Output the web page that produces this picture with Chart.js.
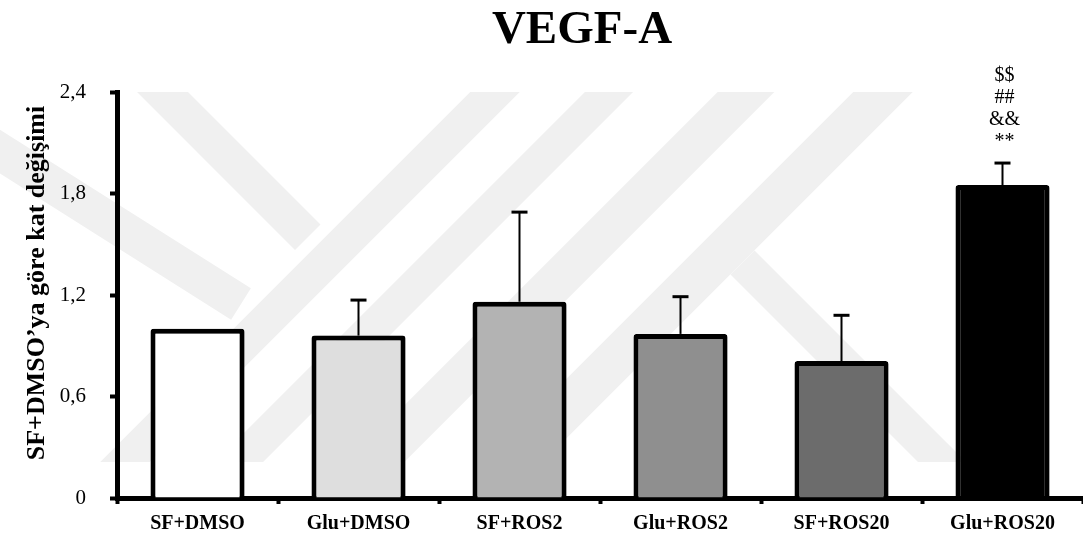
<!DOCTYPE html>
<html>
<head>
<meta charset="utf-8">
<script src="https://cdn.jsdelivr.net/npm/chart.js@4.4.1/dist/chart.umd.min.js"></script>
<style>
  html, body { margin: 0; padding: 0; background: #ffffff; overflow: hidden; }
  #wrap { width: 1083px; height: 543px; position: relative; }
</style>
</head>
<body>
<div id="wrap"><canvas id="c" width="1083" height="543"></canvas></div>
<script>
// Groups and fold change relative to SF+DMSO (mean and SD)
const groups = ['SF+DMSO', 'Glu+DMSO', 'SF+ROS2', 'Glu+ROS2', 'SF+ROS20', 'Glu+ROS20'];
const meanFold = [1.00, 0.96, 1.16, 0.97, 0.81, 1.85];
const sdFold = [0, 0.21, 0.53, 0.22, 0.27, 0.13];
const barColors = ['#ffffff', '#dedede', '#b3b3b3', '#8f8f8f', '#6c6c6c', '#000000'];
const yTicks = [0, 0.6, 1.2, 1.8, 2.4];
const sigMarks = [[], [], [], [], [], ['$$', '##', '&&', '**']];
const chartTitle = 'VEGF-A';
const yTitle = 'SF+DMSO\u2019ya göre kat değişimi';

const SERIF = '"Liberation Serif", "Times New Roman", serif';

// Faint background emblem made of diagonal bands
const emblem = {
  id: 'emblem',
  beforeDraw(chart) {
    const ctx = chart.ctx;
    ctx.save();
    ctx.fillStyle = '#ffffff';
    ctx.fillRect(0, 0, chart.width, chart.height);
    ctx.beginPath();
    ctx.rect(0, 92, chart.width, 370);
    ctx.clip();
    ctx.strokeStyle = '#f0f0f0';
    ctx.lineCap = 'butt';
    const bands = [
      // [x1, y1, x2, y2, width]
      [-131.5, 68.5, 241, 304, 37],
      [35.25, -35.25, 307.75, 237.25, 36],
      [-6.5, 593.5, 593.5, -6.5, 35],
      [100, 601, 700, 1, 34],
      [200, 638, 800, 38, 40],
      [350, 625, 950, 25, 42],
      [742.5, 262.5, 1100, 620, 34]
    ];
    bands.forEach(b => {
      ctx.lineWidth = b[4];
      ctx.beginPath();
      ctx.moveTo(b[0], b[1]);
      ctx.lineTo(b[2], b[3]);
      ctx.stroke();
    });
    ctx.restore();
  }
};

// Soft shadow under the bars
const barShadow = {
  id: 'barShadow',
  beforeDatasetsDraw(chart) {
    const ctx = chart.ctx;
    ctx.save();
    ctx.shadowColor = 'rgba(0,0,0,0.25)';
    ctx.shadowBlur = 4;
    ctx.shadowOffsetX = 2;
    ctx.shadowOffsetY = 1;
  },
  afterDatasetsDraw(chart) {
    chart.ctx.restore();
  }
};

// Upper error bars, significance marks and titles
const decorations = {
  id: 'decorations',
  afterDatasetsDraw(chart) {
    const ctx = chart.ctx;
    const xs = chart.scales.x, ys = chart.scales.y;
    ctx.save();
    ctx.strokeStyle = '#000000';
    meanFold.forEach((m, i) => {
      const x = xs.getPixelForValue(i);
      const yTopVal = ys.getPixelForValue(m + sdFold[i]);
      if (sdFold[i] > 0) {
        const yBar = ys.getPixelForValue(m);
        ctx.lineWidth = 2;
        ctx.beginPath();
        ctx.moveTo(x, yBar);
        ctx.lineTo(x, yTopVal);
        ctx.stroke();
        ctx.lineWidth = 3;
        ctx.beginPath();
        ctx.moveTo(x - 8, yTopVal);
        ctx.lineTo(x + 8, yTopVal);
        ctx.stroke();
      }
      const marks = sigMarks[i];
      if (marks.length) {
        ctx.fillStyle = '#000000';
        ctx.font = '20px ' + SERIF;
        ctx.textAlign = 'center';
        ctx.textBaseline = 'middle';
        const n = marks.length;
        marks.forEach((t, k) => {
          ctx.fillText(t, x + 2, yTopVal - 21 - 22 * (n - 1 - k));
        });
      }
    });

    // chart title
    ctx.fillStyle = '#000000';
    ctx.font = 'bold 47px ' + SERIF;
    ctx.textAlign = 'center';
    ctx.textBaseline = 'alphabetic';
    ctx.fillText(chartTitle, 582, 43);

    // y axis title
    ctx.save();
    ctx.translate(44, (chart.chartArea.top + chart.chartArea.bottom) / 2 - 12);
    ctx.rotate(-Math.PI / 2);
    ctx.font = 'bold 26px ' + SERIF;
    ctx.textAlign = 'center';
    ctx.textBaseline = 'alphabetic';
    ctx.fillText(yTitle, 0, 0);
    ctx.restore();

    ctx.restore();
  }
};

new Chart(document.getElementById('c'), {
  type: 'bar',
  data: {
    labels: groups,
    datasets: [{
      data: meanFold,
      backgroundColor: barColors,
      borderColor: '#000000',
      borderWidth: 5,
      borderRadius: 3,
      borderSkipped: 'start',
      categoryPercentage: 1.0,
      barPercentage: 0.584
    }]
  },
  options: {
    responsive: false,
    animation: false,
    devicePixelRatio: 1,
    layout: { padding: { top: 92, left: 0, right: 0, bottom: 0 } },
    plugins: {
      legend: { display: false },
      tooltip: { enabled: false },
      title: { display: false }
    },
    scales: {
      x: {
        type: 'category',
        offset: true,
        grid: {
          display: true, drawOnChartArea: false, drawTicks: true, offset: true,
          tickLength: 6, tickWidth: 4, tickColor: '#000000'
        },
        border: { display: true, color: '#000000', width: 5 },
        ticks: {
          color: '#000000', padding: 8, maxRotation: 0, autoSkip: false,
          font: { family: SERIF, weight: 'bold', size: 20 }
        },
        afterFit(s) {
          s.height = 45;
          s.paddingLeft = 0; s.paddingRight = 0;
        }
      },
      y: {
        min: 0,
        max: 2.4,
        afterBuildTicks(s) { s.ticks = yTicks.map(v => ({ value: v })); },
        grid: {
          display: true, drawOnChartArea: false, drawTicks: true,
          tickLength: 7, tickWidth: 4, tickColor: '#000000'
        },
        border: { display: true, color: '#000000', width: 5 },
        ticks: {
          color: '#000000', padding: 24,
          font: { family: SERIF, size: 21 },
          callback: v => String(v).replace('.', ',')
        },
        afterFit(s) {
          s.width = 117;
          s.paddingTop = 0; s.paddingBottom = 0;
        }
      }
    }
  },
  plugins: [emblem, barShadow, decorations]
});
</script>
</body>
</html>
